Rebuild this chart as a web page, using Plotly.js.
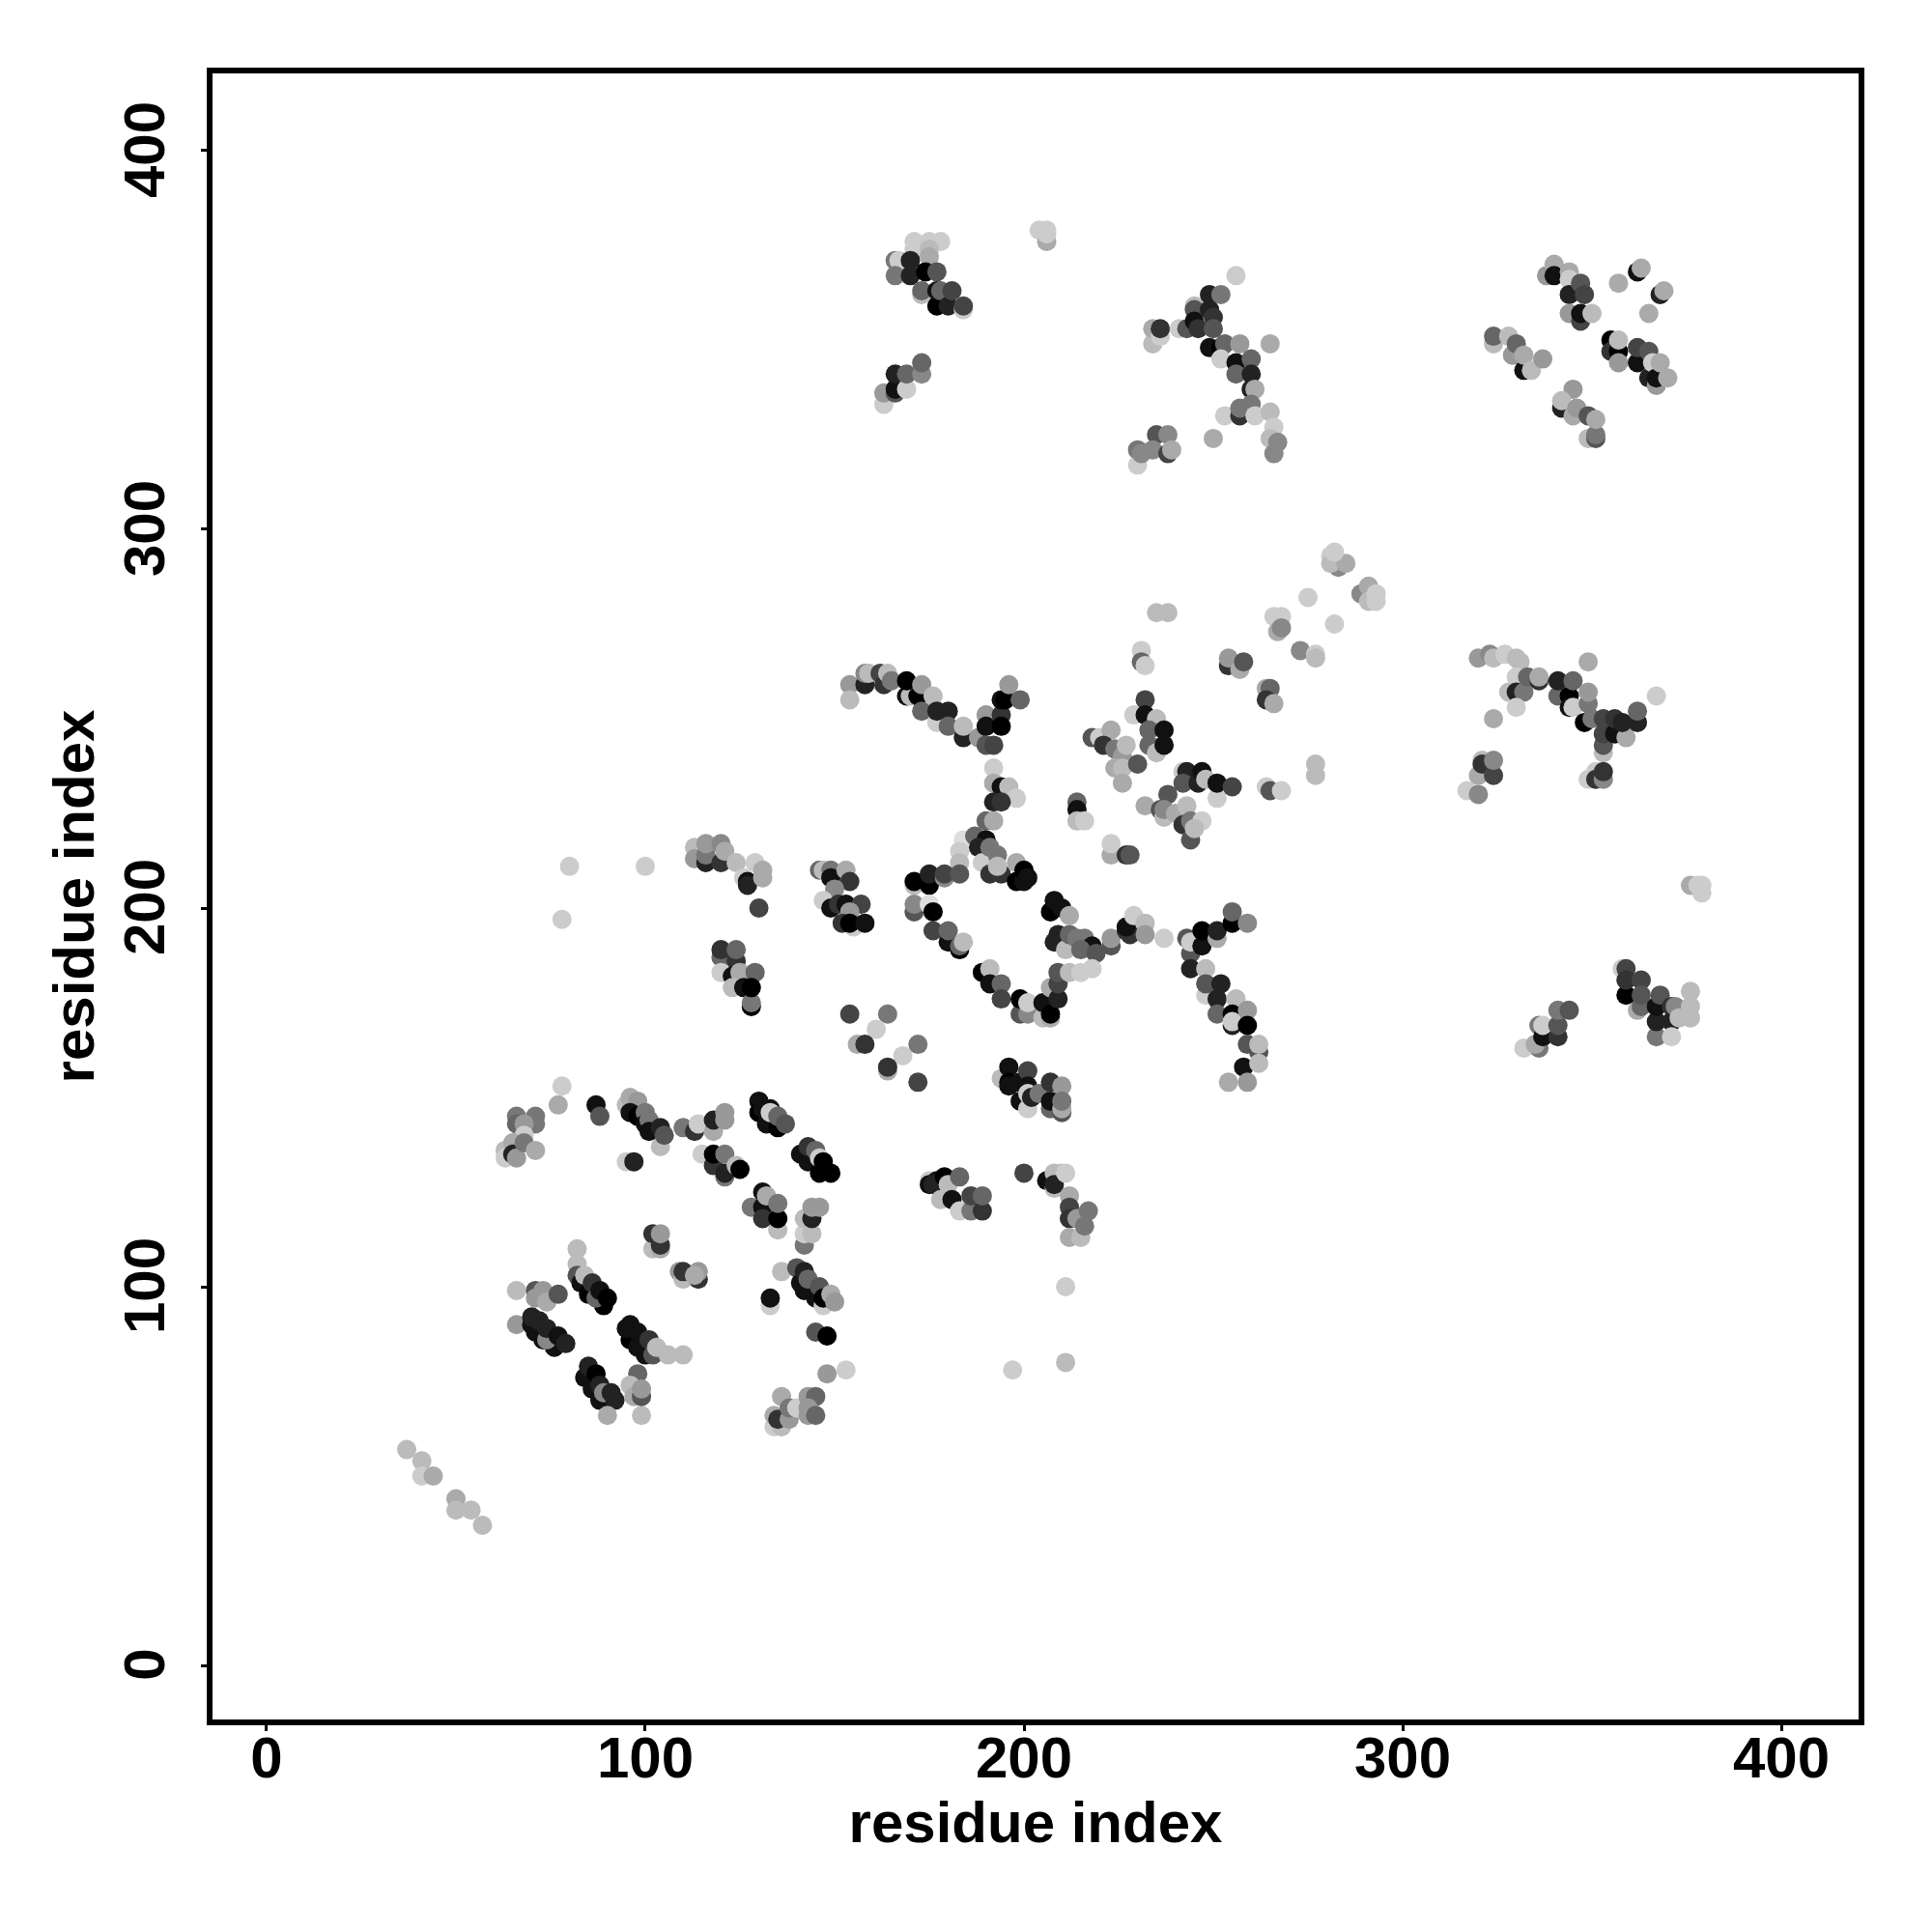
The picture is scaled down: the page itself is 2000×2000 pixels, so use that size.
<!DOCTYPE html>
<html><head><meta charset="utf-8">
<script src="https://cdn.plot.ly/plotly-3.0.1.min.js"></script>
<style>html,body{margin:0;padding:0;background:#fff}</style></head>
<body><div id="chart" style="width:2000px;height:2000px"></div>
<script>
// contacts: [residue i, residue j, shade 0 (black) .. 15 (white)]
const tail=[[37,57,11],[41,54,11],[41,50,12],[44,50,10],[50,44,10],[50,41,11],[54,41,11],[57,37,11]];
const a1=[[66,145,7],[71,145,7],[66,143,6],[71,143,7],[68,143,9],[68,140,12],[63,136,11],[63,134,12],[65,138,10],[65,135,2],[66,134,9],[68,138,7],[71,136,10],[78,153,12],[77,148,10],[87,148,1],[88,145,5]];
const a2=[[95,148,11],[96,150,10],[98,149,9],[96,146,1],[98,145,0],[100,146,7],[100,143,1],[101,144,7],[101,141,1],[104,137,11],[104,142,2],[105,140,5],[95,133,12],[97,133,2]];
const a3=[[102,110,11],[104,110,10],[102,114,3],[104,111,3],[104,114,9],[82,110,11],[82,106,11],[82,103,5],[83,101,1],[85,98,0],[89,95,0],[84,103,11],[86,101,3],[87,97,6],[88,99,1],[90,97,0]];
const a4=[[66,99,11],[71,99,5],[73,99,9],[71,97,9],[74,96,10],[77,98,5],[66,90,9],[70,90,1],[71,88,1],[73,86,1],[76,84,1],[70,92,2],[72,91,2],[74,86,8],[74,89,2],[77,87,1],[79,85,2]];
const a5=[[96,86,0],[98,84,1],[100,82,1],[95,89,1],[96,90,1],[98,88,1],[101,86,3],[102,82,5],[103,84,11],[106,82,11],[110,82,11]];
const a6=[[84,76,1],[86,73,1],[88,70,1],[85,79,2],[87,77,0],[88,74,2],[89,72,8],[91,72,2],[92,70,2],[90,66,10],[99,66,11],[98,77,6],[96,74,11],[97,71,10],[99,71,5],[99,73,9]];
const b1=[[110,142,7],[113,141,3],[114,143,12],[118,141,10],[118,144,2],[121,146,9],[121,144,9],[115,135,12],[118,132,3],[118,135,0],[121,129,7],[121,130,2],[121,135,7],[124,132,11],[125,131,0]];
const b2=[[130,149,1],[130,146,0],[132,143,1],[131,147,1],[133,147,1],[135,142,0],[133,146,12],[135,145,6],[137,143,5]];
const b3=[[141,135,1],[143,133,1],[146,130,0],[143,137,3],[145,136,6],[146,134,12],[147,133,0],[149,130,0]];
const b4=[[128,121,7],[131,125,1],[131,121,1],[131,118,3],[132,124,10],[135,115,11],[135,118,0],[135,122,7]];
const b5=[[142,111,7],[142,114,12],[144,114,11],[142,118,11],[144,118,2],[144,121,9],[146,121,9]];
const b6=[[109,104,9],[110,102,11],[110,104,3],[114,102,3],[114,104,9],[113,103,10]];
const b7=[[136,104,11],[140,105,5],[141,101,1],[142,99,1],[145,97,1],[142,104,2],[143,102,6],[146,100,5],[147,95,12],[147,97,0],[149,98,10],[150,96,9],[133,95,12],[133,97,1],[145,88,5],[148,87,0],[148,77,9],[153,78,12]];
const b8=[[134,63,12],[136,63,11],[134,66,10],[135,65,3],[138,65,9],[136,71,10],[138,68,7],[140,68,12],[143,71,9],[145,71,6],[143,66,9],[143,68,9],[145,66,6]];
const c1=[[154,172,4],[164,172,7],[161,168,12],[156,164,10],[158,164,3],[172,164,7],[168,161,12],[164,157,10],[164,158,3],[172,154,4]];
const c2=[[194,155,11],[196,158,1],[196,154,0],[196,153,1],[199,149,1],[199,154,1],[201,147,12],[201,157,4],[201,153,1],[201,151,12],[202,150,2],[204,151,7],[207,154,3],[210,153,9],[207,147,6],[207,149,1],[210,146,5],[210,147,10],[210,149,7],[200,130,4]];
const c3=[[175,128,12],[175,127,1],[177,128,1],[176,127,2],[179,129,0],[178,123,11],[180,127,11],[181,123,1],[183,120,12],[183,129,6],[186,120,7],[186,124,4],[189,120,3],[189,124,6]];
const c4=[[206,128,1],[208,130,11],[210,130,11],[208,126,11],[208,127,2],[211,130,12],[212,124,10],[212,121,4],[212,118,3],[212,113,10],[215,113,11],[214,118,9],[216,116,7],[217,120,7]];
const c5=[[211,100,12],[211,80,11],[197,78,12],[100,211,12],[80,211,12],[78,197,12]];
const d1=[[154,259,9],[154,255,11],[158,259,2],[158,262,8],[159,262,11],[162,262,4],[163,259,3],[164,262,11],[165,260,7],[169,256,1],[170,256,11],[169,260,0],[172,256,0],[173,252,6],[173,259,9],[176,256,11],[177,249,12],[177,252,2],[180,252,2],[180,248,6],[184,245,2],[184,248,11]];
const d2=[[188,245,9],[190,251,9],[190,248,1],[194,251,3],[194,248,0],[190,243,5],[192,243,4],[194,255,1],[195,255,0],[196,259,9],[199,255,6]];
const d3=[[192,237,12],[192,233,10],[194,232,1],[196,232,11],[198,229,12],[192,228,2],[194,228,3],[190,223,6],[192,223,10]];
const d4=[[184,218,13],[183,215,12],[183,212,11],[187,219,6],[190,218,1],[188,216,2],[189,212,12],[191,209,3],[194,209,3],[191,216,7],[193,214,7],[193,211,11],[198,212,10],[198,207,0],[200,207,1],[200,210,0],[201,208,1]];
const e1=[[113,216,11],[113,213,9],[116,212,2],[116,214,7],[116,217,9],[120,212,3],[120,217,8],[121,215,10],[124,212,11],[126,208,12],[129,212,12],[127,207,1],[127,206,2],[131,210,10],[131,208,10],[130,200,4]];
const e2=[[146,210,6],[147,210,11],[149,210,7],[149,208,1],[153,210,10],[154,207,3],[150,205,8],[147,202,12],[149,200,1],[151,201,3],[153,201,1],[157,201,4],[154,199,9],[155,195,12],[152,196,3],[154,196,0],[158,196,1]];
const e3=[[120,187,6],[120,189,3],[124,186,3],[124,189,6],[120,183,12],[123,182,1],[125,183,10],[123,179,11],[126,179,1],[129,183,6],[128,174,0],[128,175,7],[128,179,0]];
const f1=[[171,206,11],[171,207,0],[175,206,0],[175,209,2],[179,208,8],[179,209,4],[183,209,5],[171,199,5],[171,201,8],[175,201,13],[176,199,0],[176,194,4],[180,191,1],[180,194,6],[183,189,0],[183,190,6],[184,191,11]];
const f2=[[189,183,0],[191,184,11],[191,180,1],[194,180,6],[194,176,4],[199,172,5],[199,176,0],[201,172,8],[201,175,12],[205,171,11],[205,175,1],[207,171,10],[207,172,0],[207,179,10],[209,176,2],[209,180,4],[209,183,5]];
const f3=[[207,199,0],[208,202,1],[210,200,1],[212,198,10],[209,193,2],[208,191,2],[211,189,11],[212,193,6],[214,192,7],[216,192,7],[218,190,1],[215,189,6],[219,188,5],[212,183,11],[215,183,12],[218,184,12]];
const g1=[[223,190,5],[223,192,9],[227,194,3],[228,193,3],[227,195,1],[229,198,12],[232,196,11],[232,193,9],[237,192,12]];
const g2=[[243,192,5],[244,188,5],[244,191,12],[247,190,1],[247,194,0],[251,192,10],[251,194,2],[255,196,0],[255,199,6],[259,196,8]];
const g3=[[244,184,2],[248,184,11],[248,177,12],[248,180,5],[252,180,2],[251,176,2],[251,172,6],[256,176,11],[255,172,0],[259,173,9],[255,169,2],[255,170,12],[259,169,0],[259,164,5],[262,162,5],[262,164,11],[258,158,1],[262,159,11],[254,154,10],[259,154,9]];
const h1=[[214,228,6],[214,226,1],[214,223,11],[216,223,12],[223,214,10],[223,217,12],[227,214,3],[228,214,5]];
const h2=[[218,245,5],[220,245,12],[223,247,10],[221,243,3],[224,242,7],[226,240,9],[227,243,11],[224,237,10],[226,237,11],[230,238,5],[226,233,10]];
const h3=[[232,255,4],[229,251,12],[232,251,1],[235,250,11],[233,247,6],[233,243,6],[235,241,11],[237,247,1],[237,243,1]];
const h4=[[242,236,12],[243,236,2],[242,233,5],[246,233,2],[247,236,1],[248,234,11],[251,229,12],[251,233,1],[255,232,4]];
const h5=[[232,227,10],[238,230,5],[236,226,5],[237,224,11],[237,226,8],[240,225,10],[243,227,11],[242,222,3],[244,218,5],[244,223,7],[247,223,12],[245,221,11]];
const h6=[[231,268,12],[231,265,6],[232,264,12],[235,278,11],[238,278,11],[254,264,3],[254,266,9],[257,263,10],[258,265,5],[264,258,10],[265,258,6],[264,255,3],[266,254,10],[264,232,12],[265,231,5],[268,231,12],[277,238,11],[277,235,11]];
const h7=[[273,268,8],[277,267,12],[277,266,11],[266,277,12],[268,277,12],[267,273,10],[268,274,8],[275,282,12],[282,275,12],[281,293,12],[283,290,8],[281,291,11],[285,291,10],[282,294,12],[289,283,8],[291,285,10],[291,281,11],[293,283,12],[293,281,12]];
const i1=[[171,376,12],[171,374,12],[175,376,12],[178,376,12],[175,374,11],[175,372,10],[166,371,7],[167,371,12],[166,367,7],[170,371,2],[170,367,2],[174,368,0],[177,368,5]];
const i2=[[173,362,11],[173,363,6],[177,359,0],[177,363,1],[178,363,6],[180,359,2],[181,363,4],[184,358,12],[184,359,4]];
const i3=[[163,333,12],[163,336,9],[166,336,5],[166,337,1],[166,341,2],[169,337,12],[169,341,6],[173,341,8],[173,344,6]];
const i4=[[204,379,12],[206,376,10],[206,378,12],[206,379,12]];
const j1=[[234,349,11],[234,353,10],[236,351,12],[236,353,3],[241,353,12],[243,353,5],[245,359,11],[245,358,5],[245,355,1],[246,353,3],[249,362,2],[249,358,2],[250,356,3],[250,353,5],[252,362,7],[256,367,12]];
const j2=[[249,348,1],[252,348,0],[253,349,6],[252,345,12],[256,344,1],[257,349,9],[260,345,6],[256,341,6],[260,341,2],[265,349,10],[260,337,2],[261,337,10]];
const j3=[[253,330,12],[257,330,3],[257,332,7],[260,333,7],[261,330,12],[265,331,11],[266,327,12],[265,324,11],[267,323,8],[266,320,8],[250,324,10]];
const j4=[[230,317,12],[230,321,7],[231,320,8],[235,325,5],[234,321,8],[238,320,4],[238,325,8],[239,321,10]];
const k1=[[338,367,9],[340,370,10],[340,367,1],[344,368,10],[344,366,12],[344,362,2],[347,365,5],[348,362,4],[344,357,9],[347,355,4],[347,357,1],[350,357,11]];
const k2=[[357,365,10],[362,368,1],[363,369,10],[368,362,2],[369,363,10],[365,357,10]];
const k3=[[324,349,11],[324,351,6],[328,351,11],[329,346,9],[330,349,6],[332,342,1],[332,346,10],[334,342,11],[337,345,9]];
const k4=[[355,350,0],[355,347,3],[357,347,0],[357,344,9],[357,350,11],[362,344,1],[362,348,4],[365,347,5],[365,340,2],[366,344,12],[367,338,9],[367,340,1],[368,344,10],[370,340,10]];
const k5=[[345,337,9],[342,332,2],[342,334,11],[345,330,10],[346,332,9],[349,324,11],[349,330,5],[351,324,5],[351,325,7],[351,329,10]];
const m1=[[320,266,9],[323,267,8],[324,266,11],[327,267,12],[330,266,11],[331,265,11],[330,261,12],[328,257,11],[330,257,2],[332,257,7],[330,253,12],[333,261,6],[336,260,3],[336,261,10],[324,250,10],[349,265,10]];
const m2=[[341,256,6],[341,260,2],[344,256,0],[344,253,1],[345,253,12],[345,260,6],[348,249,0],[349,254,7],[349,257,9],[350,250,7]];
const m3=[[353,241,11],[353,243,5],[353,246,4],[353,250,4],[356,246,1],[356,250,3],[359,245,10],[358,249,2],[362,249,2],[362,252,6],[367,256,12]];
const m4=[[349,234,12],[351,236,12],[351,234,3],[353,234,8],[353,236,3]];
const m5=[[317,231,12],[320,230,8],[320,235,10],[321,239,11],[321,238,3],[324,235,4],[324,239,8]];
const n1=[[376,206,10],[378,206,12],[379,204,12],[379,206,12]];
const n2=[[358,184,12],[359,184,4],[359,177,0],[359,181,3],[363,181,4],[362,173,10],[363,174,6],[363,177,5],[367,166,7],[367,170,2],[367,174,1],[368,177,5],[371,174,3],[371,170,2],[371,166,12],[372,174,8],[373,171,11],[376,178,11],[376,174,11],[376,171,11]];
const n3=[[332,163,12],[336,163,7],[335,164,10],[336,169,7],[337,166,1],[337,169,12],[341,166,3],[341,169,5],[341,173,7],[344,173,5]];

const clusters=[tail,a1,a2,a3,a4,a5,a6,b1,b2,b3,b4,b5,b6,b7,b8,c1,c2,c3,c4,c5,d1,d2,d3,d4,e1,e2,e3,f1,f2,f3,g1,g2,g3,h1,h2,h3,h4,h5,h6,h7,i1,i2,i3,i4,j1,j2,j3,j4,k1,k2,k3,k4,k5,m1,m2,m3,m4,m5,n1,n2,n3];
const contacts=clusters.flat();
const axisTicks=[0,100,200,300,400];
const axisLabel='residue index';
const F='"Liberation Sans", Arial, sans-serif';

function axis(range,tickangle,labelShift,parallelShift,standoff){return {
  range:range,tickmode:'array',tickvals:axisTicks,ticktext:axisTicks.map(String),
  ticks:'outside',ticklen:6,tickwidth:3,tickcolor:'#000',tickangle:tickangle,ticklabelstandoff:labelShift,ticklabelshift:parallelShift,
  tickfont:{family:F,size:60,color:'#000',weight:'bold'},
  showline:true,mirror:true,linecolor:'#000',linewidth:6,showgrid:false,zeroline:false,automargin:false,
  title:{text:axisLabel,font:{family:F,size:60,color:'#000',weight:'bold'},standoff:standoff}
};}
Plotly.newPlot('chart',[{
  type:'scatter',mode:'markers',
  x:contacts.map(c=>c[0]),y:contacts.map(c=>c[1]),
  marker:{size:20,color:contacts.map(c=>c[2]),cmin:0,cmax:15,colorscale:[[0,'#000'],[1,'#fff']],showscale:false,line:{width:0}}
}],{
  width:2000,height:2000,showlegend:false,paper_bgcolor:'#fff',plot_bgcolor:'#fff',
  margin:{l:219.5,r:75.5,t:75.5,b:219.5,pad:0},
  xaxis:axis([-14.28,420.4],0,-24,0,15),
  yaxis:axis([-14.28,420.4],-90,14,8,1)
},{displayModeBar:false,staticPlot:true});
</script></body></html>
